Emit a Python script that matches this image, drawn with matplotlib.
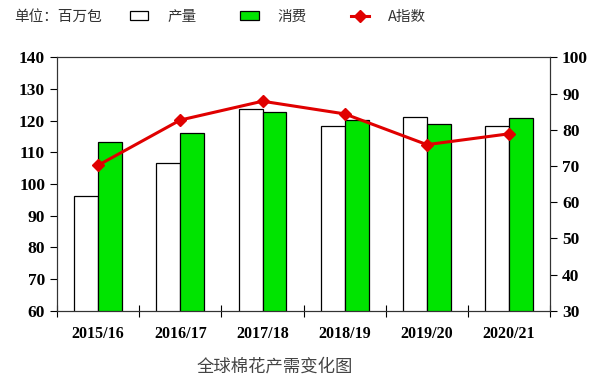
import matplotlib.pyplot as plt
import numpy as np

plt.rcParams["font.family"] = ["Liberation Serif", "Noto Sans CJK SC"]

seasons = ["2015/16", "2016/17", "2017/18", "2018/19", "2019/20", "2020/21"]
production = [96.2, 106.7, 123.6, 118.5, 121.3, 118.3]
consumption = [113.2, 116.1, 122.7, 120.1, 119.0, 120.8]
a_index = [70.2, 82.7, 87.9, 84.4, 75.9, 78.9]

cjk = ["Noto Sans CJK SC", "DejaVu Sans"]

fig = plt.figure(figsize=(6, 3.88), dpi=100)
ax = fig.add_axes([0.095, 0.199, 0.822, 0.653])
ax2 = ax.twinx()

x = np.arange(len(seasons))
w = 0.29
b1 = ax.bar(x - w / 2, production, w, bottom=0, color="white", edgecolor="black", linewidth=0.9)
b2 = ax.bar(x + w / 2, consumption, w, bottom=0, color="#00e400", edgecolor="black", linewidth=0.9)
ln, = ax2.plot(x, a_index, color="#e00000", linewidth=2.2, marker="D", markersize=6)

ax.set_xlim(-0.5, len(seasons) - 0.5)
ax.set_ylim(60, 140)
ax.set_yticks(np.arange(60, 141, 10))
ax2.set_ylim(30, 100)
ax2.set_yticks(np.arange(30, 101, 10))

ax.set_xticks(x)
ax.set_xticklabels(seasons, fontweight="bold", fontsize=11.5)
ax.set_xticks(np.arange(-0.5, len(seasons)), minor=True)
ax.tick_params(axis="x", which="major", length=0, pad=11)
ax.tick_params(axis="x", which="minor", direction="inout", length=9, width=0.8)
ax.tick_params(axis="y", length=5, width=0.8)
ax2.tick_params(axis="y", length=5, width=0.8)
for lab in ax.get_yticklabels() + ax2.get_yticklabels():
    lab.set_fontweight("bold")
    lab.set_fontsize(12.5)

for a in (ax, ax2):
    for s in a.spines.values():
        s.set_linewidth(0.8)
        s.set_color("#333333")

fig.text(14 / 600, 1 - 17 / 388, "单位：百万包", family=cjk, fontsize=10.5,
         color="#333333", va="center")
leg = fig.legend([b1, b2, ln], ["产量", "消费", "A指数"], ncol=3, frameon=False,
                 loc="center left", bbox_to_anchor=(117 / 600, 1 - 17 / 388),
                 prop={"family": cjk, "size": 10.5}, handlelength=1.25,
                 handleheight=0.6, handletextpad=1.3, columnspacing=3.0)
for t in leg.get_texts():
    t.set_color("#333333")

fig.text(0.458, 1 - 367 / 388, "全球棉花产需变化图", family=cjk, fontsize=12.5,
         color="#444444", ha="center", va="center")

fig.savefig("out.png", dpi=100)
